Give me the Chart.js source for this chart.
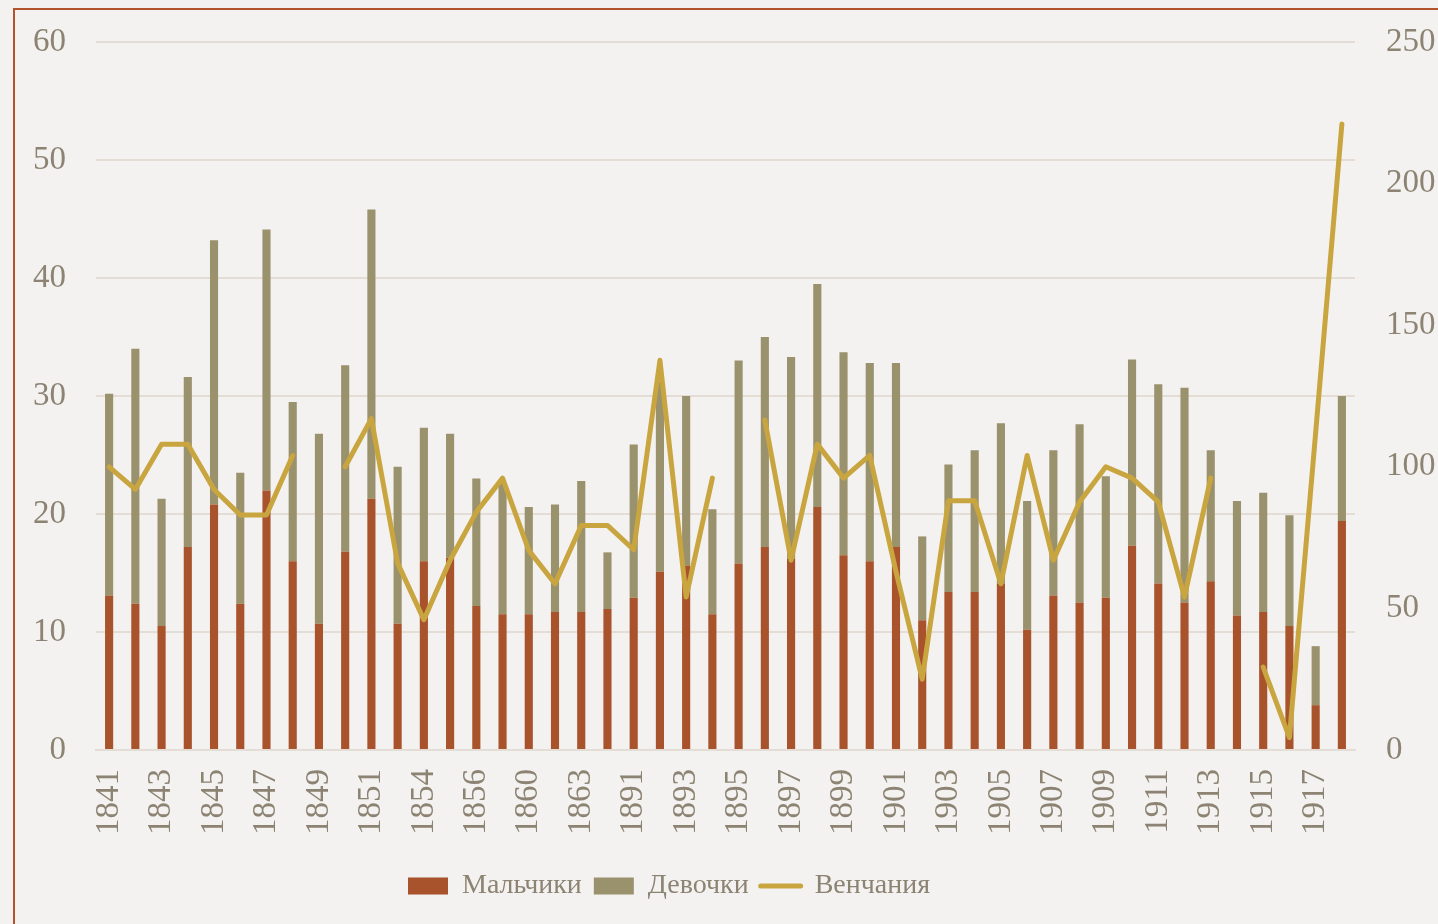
<!DOCTYPE html>
<html><head><meta charset="utf-8">
<script src="https://cdn.jsdelivr.net/npm/chart.js@4.4.1/dist/chart.umd.min.js"></script>
<style>
html,body{margin:0;padding:0;background:#f3f2f0;overflow:hidden}
#wrap{position:relative;width:1438px;height:924px}
#c{display:block}
#frame{position:absolute;left:13px;top:8px;width:1500px;height:1000px;border-left:2px solid #b3542f;border-top:2px solid #b3542f;pointer-events:none}
</style></head><body>
<div id="wrap"><canvas id="c" width="1438" height="924"></canvas><div id="frame"></div></div>
<script>
const years = ['1841','1842','1843','1844','1845','1846','1847','1848','1849','1850','1851','1852',
  '1854','1855','1856','1858','1860','1862','1863','1864',
  '1891','1892','1893','1894','1895','1896','1897','1898','1899','1900','1901','1902','1903','1904',
  '1905','1906','1907','1908','1909','1910','1911','1912','1913','1914','1915','1916','1917','1918'];
const boys = [13.1,12.4,10.5,17.2,20.8,12.4,22.0,16.0,10.7,16.8,21.3,10.7,
  16.0,16.3,12.2,11.5,11.5,11.7,11.7,11.95,
  12.9,15.1,15.6,11.5,15.8,17.2,16.2,20.6,16.5,16.0,17.2,11.0,13.4,13.4,
  14.1,10.2,13.1,12.5,12.9,17.3,14.1,12.5,14.3,11.4,11.7,10.5,3.8,19.4];
const girls = [17.1,21.6,10.8,14.4,22.4,11.1,22.1,13.5,16.1,15.8,24.5,13.3,
  11.3,10.5,10.8,11.1,9.1,9.1,11.1,4.8,
  13.0,16.1,14.4,8.9,17.2,17.8,17.1,18.9,17.2,16.8,15.6,7.1,10.8,12.0,
  13.6,10.9,12.3,15.1,10.3,15.8,16.9,18.2,11.1,9.7,10.1,9.4,5.0,10.6];
const weddings = [100,92,108,108,92,83,83,104,null,100,117,66,
  46,67,84,96,70.5,58.7,79.3,79.3,
  70.7,137.6,54,96,null,116.5,67,108,96,104,63,25,88,88,
  58.7,104,67,87.6,100,96,87.6,54,96,null,29.3,4.4,112,221];
const seriesNames = ['Мальчики','Девочки','Венчания'];
const leftMax = 60, leftStep = 10, rightMax = 250, rightStep = 50;

const TEXT = '#8c8373';
const GRID = '#e4ddd5';
Chart.defaults.font.family = "'Liberation Serif', 'DejaVu Serif', serif";
Chart.defaults.color = TEXT;

const legendPlacer = {
  id: 'legendPlacer',
  afterLayout(chart) {
    const lg = chart.legend;
    if (!lg || !lg.lineWidths) return;
    const pad = lg.options.labels.padding;
    const x0 = (lg.left + pad + lg.right - lg.lineWidths[0]) / 2;
    const dx = 408 - x0;
    lg.left += dx; lg.right += dx;
    const fs = lg.options.labels.font.size;
    const newTop = 886 - pad - fs / 2;
    const dy = newTop - lg.top;
    lg.top += dy; lg.bottom += dy;
  }
};

new Chart(document.getElementById('c'), {
  data: {
    labels: years,
    datasets: [
      { type: 'bar', label: seriesNames[0], data: boys, backgroundColor: '#a8532b', borderWidth: 0,
        yAxisID: 'y', stack: 's', barPercentage: 0.31, categoryPercentage: 1.0, order: 0 },
      { type: 'bar', label: seriesNames[1], data: girls, backgroundColor: '#9a916d', borderWidth: 0,
        yAxisID: 'y', stack: 's', barPercentage: 0.31, categoryPercentage: 1.0, order: 0 },
      { type: 'line', label: seriesNames[2], data: weddings, borderColor: '#c9a540', backgroundColor: '#c9a540',
        borderWidth: 5, pointRadius: 0, tension: 0, spanGaps: false, yAxisID: 'y1',
        borderCapStyle: 'round', borderJoinStyle: 'round', order: -1 }
    ]
  },
  options: {
    responsive: false,
    animation: false,
    layout: { padding: { top: 42, left: 0, right: 0, bottom: 0 } },
    plugins: {
      tooltip: { enabled: false },
      legend: {
        position: 'bottom',
        labels: {
          usePointStyle: true, pointStyleWidth: 40, boxHeight: 17, padding: 12,
          font: { size: 28 }, color: TEXT,
          sort: (a, b) => a.datasetIndex - b.datasetIndex,
          generateLabels(chart) {
            const items = Chart.defaults.plugins.legend.labels.generateLabels(chart);
            items.forEach(it => {
              const ds = chart.data.datasets[it.datasetIndex];
              if (ds.type === 'line') { it.pointStyle = 'line'; it.lineWidth = 5; it.strokeStyle = ds.borderColor; it.lineCap = 'round'; }
              else { it.pointStyle = 'rect'; it.lineWidth = 0; }
            });
            return items;
          }
        }
      }
    },
    scales: {
      x: {
        stacked: true,
        offset: true,
        grid: { display: false },
        border: { display: true, color: GRID, width: 2 },
        ticks: {
          autoSkip: false, minRotation: 90, maxRotation: 90, padding: 11,
          font: { size: 33 }, color: TEXT,
          callback(v, i) { return i % 2 === 0 ? years[i] : ''; }
        },
        afterFit(s) { s.height = 174 - (s.chart.legend ? s.chart.legend.height : 0); }
      },
      y: {
        stacked: true, position: 'left', min: 0, max: leftMax,
        grid: { color: GRID, lineWidth: 2, drawTicks: false },
        border: { display: false },
        ticks: { stepSize: leftStep, padding: 30, font: { size: 33 }, color: TEXT },
        afterFit(s) { s.width = 96; s.paddingTop = 0; s.paddingBottom = 0; }
      },
      y1: {
        position: 'right', min: 0, max: rightMax,
        grid: { display: false, drawTicks: false },
        border: { display: false },
        ticks: { stepSize: rightStep, padding: 31, font: { size: 33 }, color: TEXT },
        afterFit(s) { s.width = 83; s.paddingTop = 0; s.paddingBottom = 0; }
      }
    }
  },
  plugins: [legendPlacer]
});
</script>
</body></html>
